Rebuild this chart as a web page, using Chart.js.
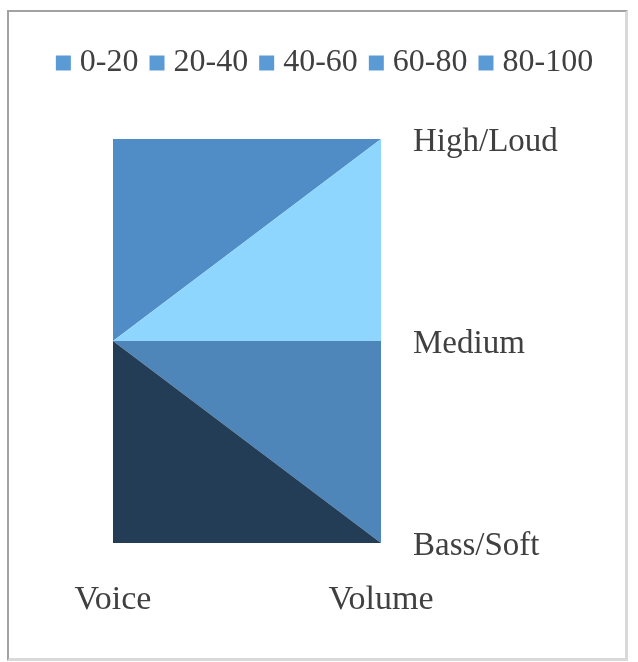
<!DOCTYPE html>
<html>
<head>
<meta charset="utf-8">
<script src="https://cdn.jsdelivr.net/npm/chart.js@4.4.1/dist/chart.umd.min.js"></script>
<style>
    html, body { margin: 0; padding: 0; background: #fff; }
    .frame {
        position: absolute; left: 7px; top: 10px; width: 616px; height: 646px;
        border-left: 2px solid #a2a2a2; border-top: 2px solid #a2a2a2;
        border-right: 3px solid #d9d9d9; border-bottom: 3px solid #d9d9d9;
    }
    .wrap { position: absolute; left: 0; top: 0; width: 638px; height: 662px; }
</style>
</head>
<body>
<div class="frame"></div>
<div class="wrap"><canvas id="chart" width="638" height="662"></canvas></div>
<script>
const categories = ['Voice', 'Volume'];
const seriesNames = ['0-20', '20-40', '40-60', '60-80', '80-100'];
const band0to20 = [50, 0];
const band20to40 = [0, 50];
const band40to60 = [0, 50];
const band60to80 = [50, 0];
const band80to100 = [0, 0];
const levelLabels = ['Bass/Soft', 'Medium', 'High/Loud']; // ticks at 0, 50, 100

const fills = ['#243d56', '#4f86b9', '#8fd6fe', '#508dc6', '#5b9bd5'];
const legendSwatch = '#5b9bd5';
const textColor = '#404040';
const serif = "'Liberation Serif', 'Times New Roman', serif";

const seriesValues = [band0to20, band20to40, band40to60, band60to80, band80to100];

const datasets = seriesNames.map((name, i) => ({
    label: name,
    data: seriesValues[i],
    backgroundColor: fills[i],
    borderWidth: 0,
    pointRadius: 0,
    fill: i === 0 ? 'origin' : '-1'
}));

// push the plot down below the legend
const legendSpace = {
    id: 'legendSpace',
    beforeInit(chart) {
        if (!chart.legend) return;
        const fit = chart.legend.fit;
        chart.legend.fit = function () {
            fit.call(this);
            this.height = 110;
        };
    }
};

const ctx = document.getElementById('chart');
new Chart(ctx, {
    type: 'line',
    data: { labels: categories, datasets },
    plugins: [legendSpace],
    options: {
        responsive: false,
        animation: false,
        layout: { padding: { left: 20, right: 2, top: 29, bottom: 8 } },
        elements: { line: { tension: 0 } },
        plugins: {
            tooltip: { enabled: false },
            legend: {
                position: 'top',
                labels: {
                    usePointStyle: true,
                    boxWidth: 1,
                    boxHeight: 15,
                    padding: 18,
                    color: textColor,
                    font: { family: serif, size: 32 },
                    generateLabels(chart) {
                        const items = Chart.defaults.plugins.legend.labels.generateLabels(chart);
                        items.forEach(it => {
                            it.fillStyle = legendSwatch;
                            it.strokeStyle = legendSwatch;
                            it.lineWidth = 0;
                            it.pointStyle = 'rect';
                        });
                        return items;
                    }
                }
            }
        },
        scales: {
            x: {
                offset: false,
                grid: { display: false },
                border: { display: false },
                ticks: {
                    color: textColor,
                    font: { family: serif, size: 34 },
                    padding: 29,
                    maxRotation: 0,
                    autoSkip: false
                },
                afterFit(scale) { scale.height = 111; }
            },
            y: {
                position: 'right',
                stacked: true,
                min: 0,
                max: 100,
                grid: { display: false, drawTicks: false },
                border: { display: false },
                ticks: {
                    stepSize: 50,
                    padding: 32,
                    labelOffset: 3,
                    color: textColor,
                    font: { family: serif, size: 33 },
                    callback: v => levelLabels[v / 50]
                },
                afterFit(scale) { scale.width = 255; }
            },
            pad: {
                position: 'left',
                grid: { display: false, drawTicks: false },
                border: { display: false },
                ticks: { display: false },
                afterFit(scale) { scale.width = 93; }
            }
        }
    }
});
</script>
</body>
</html>
